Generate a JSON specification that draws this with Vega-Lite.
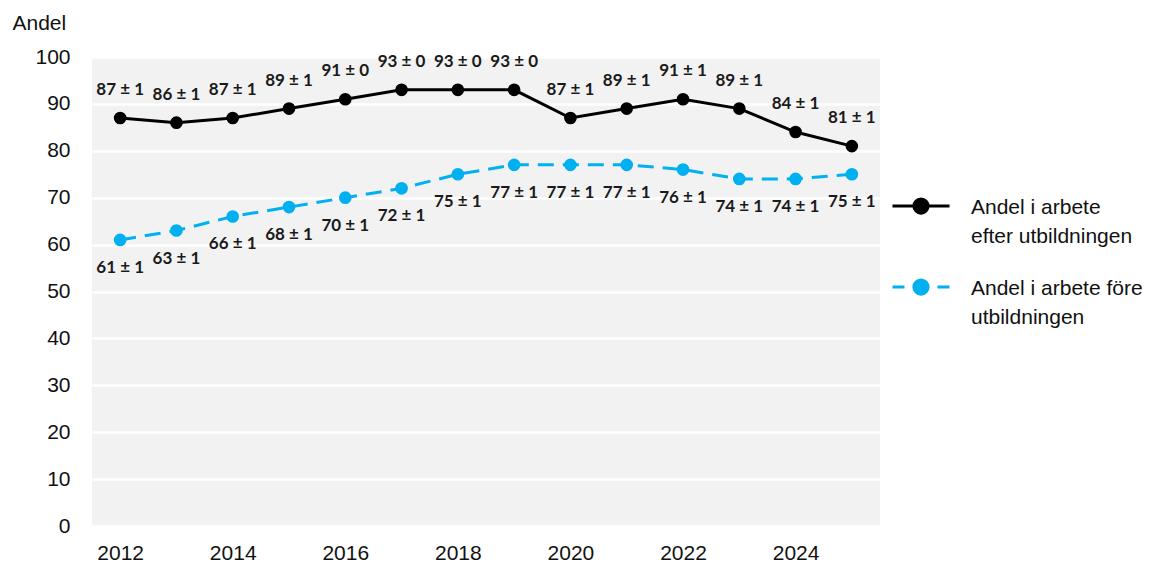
{
  "$schema": "https://vega.github.io/schema/vega-lite/v6.json",
  "width": 788,
  "height": 469,
  "autosize": {"type": "none"},
  "padding": {"left": 92, "top": 57, "right": 274, "bottom": 39},
  "background": "white",
  "config": {
    "view": {"fill": "#f2f2f2", "stroke": null},
    "font": "Liberation Sans"
  },
  "data": {
    "values": [
      {"year": 2012, "serie": "Andel i arbete efter utbildningen", "value": 87, "label": "87 ± 1"},
      {"year": 2013, "serie": "Andel i arbete efter utbildningen", "value": 86, "label": "86 ± 1"},
      {"year": 2014, "serie": "Andel i arbete efter utbildningen", "value": 87, "label": "87 ± 1"},
      {"year": 2015, "serie": "Andel i arbete efter utbildningen", "value": 89, "label": "89 ± 1"},
      {"year": 2016, "serie": "Andel i arbete efter utbildningen", "value": 91, "label": "91 ± 0"},
      {"year": 2017, "serie": "Andel i arbete efter utbildningen", "value": 93, "label": "93 ± 0"},
      {"year": 2018, "serie": "Andel i arbete efter utbildningen", "value": 93, "label": "93 ± 0"},
      {"year": 2019, "serie": "Andel i arbete efter utbildningen", "value": 93, "label": "93 ± 0"},
      {"year": 2020, "serie": "Andel i arbete efter utbildningen", "value": 87, "label": "87 ± 1"},
      {"year": 2021, "serie": "Andel i arbete efter utbildningen", "value": 89, "label": "89 ± 1"},
      {"year": 2022, "serie": "Andel i arbete efter utbildningen", "value": 91, "label": "91 ± 1"},
      {"year": 2023, "serie": "Andel i arbete efter utbildningen", "value": 89, "label": "89 ± 1"},
      {"year": 2024, "serie": "Andel i arbete efter utbildningen", "value": 84, "label": "84 ± 1"},
      {"year": 2025, "serie": "Andel i arbete efter utbildningen", "value": 81, "label": "81 ± 1"},
      {"year": 2012, "serie": "Andel i arbete före utbildningen", "value": 61, "label": "61 ± 1"},
      {"year": 2013, "serie": "Andel i arbete före utbildningen", "value": 63, "label": "63 ± 1"},
      {"year": 2014, "serie": "Andel i arbete före utbildningen", "value": 66, "label": "66 ± 1"},
      {"year": 2015, "serie": "Andel i arbete före utbildningen", "value": 68, "label": "68 ± 1"},
      {"year": 2016, "serie": "Andel i arbete före utbildningen", "value": 70, "label": "70 ± 1"},
      {"year": 2017, "serie": "Andel i arbete före utbildningen", "value": 72, "label": "72 ± 1"},
      {"year": 2018, "serie": "Andel i arbete före utbildningen", "value": 75, "label": "75 ± 1"},
      {"year": 2019, "serie": "Andel i arbete före utbildningen", "value": 77, "label": "77 ± 1"},
      {"year": 2020, "serie": "Andel i arbete före utbildningen", "value": 77, "label": "77 ± 1"},
      {"year": 2021, "serie": "Andel i arbete före utbildningen", "value": 77, "label": "77 ± 1"},
      {"year": 2022, "serie": "Andel i arbete före utbildningen", "value": 76, "label": "76 ± 1"},
      {"year": 2023, "serie": "Andel i arbete före utbildningen", "value": 74, "label": "74 ± 1"},
      {"year": 2024, "serie": "Andel i arbete före utbildningen", "value": 74, "label": "74 ± 1"},
      {"year": 2025, "serie": "Andel i arbete före utbildningen", "value": 75, "label": "75 ± 1"}
    ]
  },
  "encoding": {
    "x": {
      "field": "year", "type": "quantitative",
      "scale": {"domain": [2011.5, 2025.5], "nice": false, "zero": false},
      "axis": {
        "values": [2012, 2014, 2016, 2018, 2020, 2022, 2024],
        "format": "d", "title": null, "grid": false, "domain": false, "ticks": false,
        "labelFontSize": 21, "labelColor": "#111111", "labelPadding": 16,
        "labelFont": "Liberation Sans"
      }
    },
    "y": {
      "field": "value", "type": "quantitative",
      "scale": {"domain": [0, 100], "nice": false},
      "axis": {
        "values": [0, 10, 20, 30, 40, 50, 60, 70, 80, 90, 100],
        "title": "Andel", "titleAngle": 0, "titleX": -80, "titleY": -34,
        "titleAlign": "left", "titleBaseline": "middle",
        "titleFontSize": 21, "titleFontWeight": "normal", "titleColor": "#111111",
        "titleFont": "Liberation Sans",
        "grid": true, "gridColor": "#ffffff", "gridWidth": 2.5,
        "domain": false, "ticks": false,
        "labelFontSize": 21, "labelColor": "#111111", "labelPadding": 22,
        "labelFont": "Liberation Sans"
      }
    },
    "color": {
      "field": "serie", "type": "nominal",
      "scale": {
        "domain": ["Andel i arbete efter utbildningen", "Andel i arbete före utbildningen"],
        "range": ["#000000", "#00b0f0"]
      },
      "legend": {
        "title": null, "orient": "none", "legendX": 799, "legendY": 119,
        "labelFontSize": 21, "labelColor": "#111111", "labelFont": "Liberation Sans",
        "labelOffset": 20, "rowPadding": 10, "padding": 0,
        "symbolSize": 3249, "symbolStrokeWidth": 3,
        "labelExpr": "datum.label == 'Andel i arbete efter utbildningen' ? ['Andel i arbete', 'efter utbildningen'] : ['Andel i arbete före', 'utbildningen']",
        "labelLimit": 300,
        "labelBaseline": "top",
        "encode": {
          "symbols": {
            "update": {
              "shape": {"signal": "datum.value == 'Andel i arbete efter utbildningen' ? 'M-1,0H1M-0.25,0a0.25,0.25 0 1,0 0.5,0a0.25,0.25 0 1,0 -0.5,0' : 'M-1,0H-0.58M0.58,0H1M-0.25,0a0.25,0.25 0 1,0 0.5,0a0.25,0.25 0 1,0 -0.5,0'"},
              "fill": {"signal": "datum.value == 'Andel i arbete efter utbildningen' ? '#000000' : '#00b0f0'"},
              "stroke": {"signal": "datum.value == 'Andel i arbete efter utbildningen' ? '#000000' : '#00b0f0'"},
              "fillOpacity": {"value": 1},
              "strokeWidth": {"value": 3}
            }
          },
          "labels": {
            "update": {"lineHeight": {"value": 29}, "dy": {"value": -9}}
          }
        }
      }
    }
  },
  "layer": [
    {
      "transform": [{"filter": "datum.serie == 'Andel i arbete efter utbildningen'"}],
      "mark": {"type": "line", "strokeWidth": 3}
    },
    {
      "transform": [{"filter": "datum.serie == 'Andel i arbete före utbildningen'"}],
      "mark": {"type": "line", "strokeWidth": 3, "strokeDash": [16, 9]}
    },
    {
      "mark": {"type": "point", "filled": true, "opacity": 1, "size": 160}
    },
    {
      "transform": [{"filter": "datum.serie == 'Andel i arbete efter utbildningen'"}],
      "mark": {"type": "text", "dy": -28, "font": "Lato", "fontWeight": "bold", "fontSize": 17, "color": "#1a1a1a"},
      "encoding": {"text": {"field": "label"}, "color": {"value": "#1a1a1a"}}
    },
    {
      "transform": [{"filter": "datum.serie == 'Andel i arbete före utbildningen'"}],
      "mark": {"type": "text", "dy": 28, "font": "Lato", "fontWeight": "bold", "fontSize": 17, "color": "#1a1a1a"},
      "encoding": {"text": {"field": "label"}, "color": {"value": "#1a1a1a"}}
    }
  ]
}
